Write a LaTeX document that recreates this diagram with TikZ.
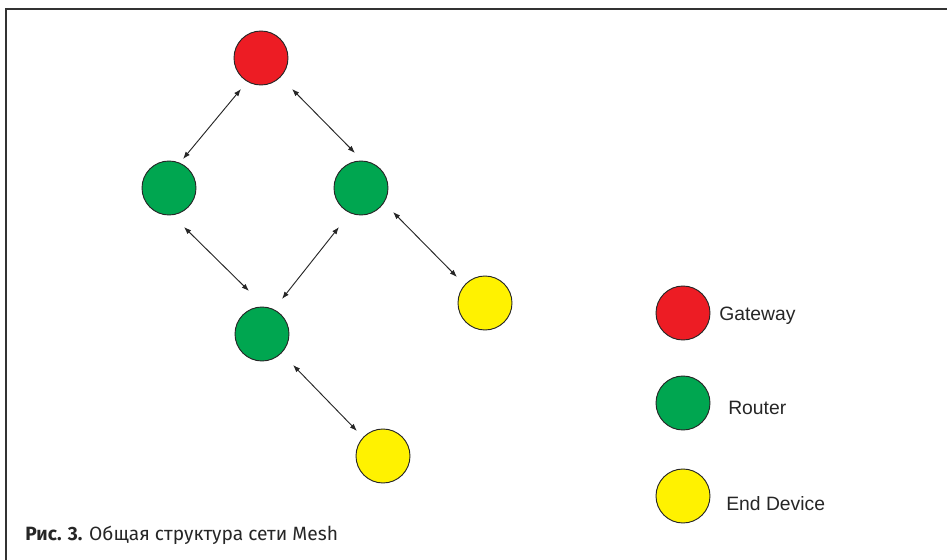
\documentclass[tikz,border=0pt]{standalone}
\usepackage{fontspec}
\setmainfont{Liberation Sans}
\newfontfamily\capfont{Fira Sans}
\usetikzlibrary{arrows.meta}
\definecolor{gwred}{HTML}{ED1C24}
\definecolor{rtgreen}{HTML}{00A650}
\definecolor{edyellow}{HTML}{FFF200}
\begin{document}
\begin{tikzpicture}[x=0.75pt,y=-0.75pt,
  dev/.style={circle,draw=black!85,line width=0.7pt,minimum size=40.5pt,inner sep=0pt},
  gw/.style={dev,fill=gwred},
  rt/.style={dev,fill=rtgreen},
  ed/.style={dev,fill=edyellow},
  link/.style={draw=black!85,line width=0.7pt,{Latex[length=5.5pt,width=4pt]}-{Latex[length=5.5pt,width=4pt]}},
  lab/.style={anchor=base west,inner sep=0pt,font=\fontsize{14.5}{17}\selectfont,text=black!85},
  frame/.style={draw=black!80,line width=1.1pt}
]
\useasboundingbox (0,0) rectangle (947,560);
% frame
\draw[frame] (947,9) -- (6,9) -- (6,560);
% nodes
\node[gw] (g)  at (261,58)  {};
\node[rt] (rl) at (169,188) {};
\node[rt] (rr) at (361,188) {};
\node[rt] (rm) at (262,334) {};
\node[ed] (e1) at (485,303) {};
\node[ed] (e2) at (383,456) {};
% links
\draw[link] ([shift={(-20,31)}]g.center) -- ([shift={(14,-29)}]rl.center);
\draw[link] ([shift={(31,31)}]g.center) -- ([shift={(-6,-35)}]rr.center);
\draw[link] ([shift={(15,39)}]rl.center) -- ([shift={(-13,-43)}]rm.center);
\draw[link] ([shift={(-22,39)}]rr.center) -- ([shift={(20,-35)}]rm.center);
\draw[link] ([shift={(32,24)}]rr.center) -- ([shift={(-28,-26)}]e1.center);
\draw[link] ([shift={(31,31)}]rm.center) -- ([shift={(-26,-25)}]e2.center);
% legend
\node[gw] (lg) at (683,313) {};
\node[rt] (lr) at (683,403) {};
\node[ed] (le) at (683,496) {};
\node[lab] (tg) at (719,320) {Gateway};
\node[lab] (tr) at (728,414) {Router};
\node[lab] (te) at (726,510) {End Device};
% caption
\node[anchor=base west,inner sep=0pt,font=\capfont\fontsize{14.4}{17}\selectfont,text=black!85] (cap) at (25,540) {\textbf{Рис. 3.} Общая структура сети Mesh};
\end{tikzpicture}
\end{document}
